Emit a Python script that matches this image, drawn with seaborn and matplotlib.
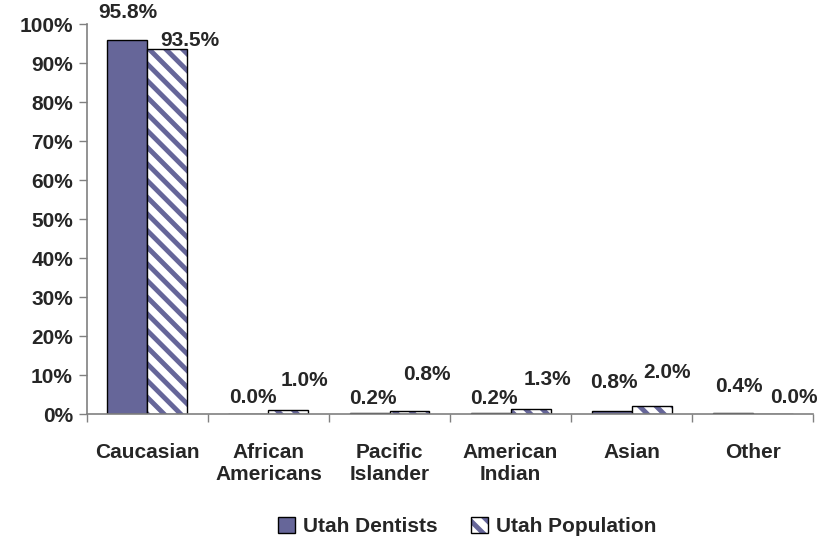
import numpy as np
import pandas as pd
import matplotlib
matplotlib.use("Agg")
import matplotlib.pyplot as plt
import seaborn as sns
from matplotlib.patches import Patch, Rectangle

# data
categories = ["Caucasian", "African\nAmericans", "Pacific\nIslander", "American\nIndian", "Asian", "Other"]
series = ["Utah Dentists", "Utah Population"]
dentists = [95.8, 0.0, 0.2, 0.2, 0.8, 0.4]
population = [93.5, 1.0, 0.8, 1.3, 2.0, 0.0]
y_ticks = [0, 10, 20, 30, 40, 50, 60, 70, 80, 90, 100]

# label nudges (pixels), Excel shifts some labels to avoid overlaps
dx_dent = [0, 4, 3, 3, 2, 6]
dy_dent = [28, 17, 15, 15, 28, 26]
dx_pop = [22, 16, 17, 17, 15, 21]
dy_pop = [9, 30, 36, 30, 34, 17]

PURPLE = "#666699"
FS = 15

sns.set_style("white")
plt.rcParams["font.family"] = ["Liberation Sans", "DejaVu Sans"]
plt.rcParams["font.weight"] = "bold"
plt.rcParams["hatch.linewidth"] = 3.5

df = pd.DataFrame({
    "category": categories * 2,
    "series": [series[0]] * len(categories) + [series[1]] * len(categories),
    "value": dentists + population,
})

fig, ax = plt.subplots(figsize=(8.19, 5.42), dpi=100)
fig.subplots_adjust(left=0.106, right=0.993, top=0.9557, bottom=0.236)

sns.barplot(data=df, x="category", y="value", hue="series", order=categories,
            hue_order=series, palette=[PURPLE, "white"], width=0.66,
            edgecolor="black", linewidth=1.0, saturation=1, legend=False, ax=ax)

# hatch takes the edge colour, so draw the black outline separately
for patch in ax.containers[1]:
    patch.set_hatch("\\\\")
    patch.set_edgecolor(PURPLE)
    patch.set_linewidth(0)
    ax.add_patch(Rectangle(patch.get_xy(), patch.get_width(), patch.get_height(),
                           fill=False, edgecolor="black", linewidth=1.0, zorder=patch.get_zorder() + 0.1))

# value labels
for cont, vals, dxs, dys in [(ax.containers[0], dentists, dx_dent, dy_dent),
                             (ax.containers[1], population, dx_pop, dy_pop)]:
    for patch, v, dx, dy in zip(cont, vals, dxs, dys):
        xc = patch.get_x() + patch.get_width() / 2
        ax.annotate(f"{v:.1f}%", (xc, v), xytext=(dx, dy), textcoords="offset pixels",
                    ha="center", va="center", fontsize=FS, fontweight="bold", annotation_clip=False)

ax.set_xlim(-0.5, len(categories) - 0.5)
ax.set_ylim(0, 100)
ax.set_yticks(y_ticks)
ax.set_yticklabels([f"{t}%" for t in y_ticks], fontsize=FS, fontweight="bold")
ax.set_xticks(range(len(categories)))
ax.set_xticklabels(categories, fontsize=FS, fontweight="bold")
ax.set_xticks(np.arange(-0.5, len(categories)), minor=True)
ax.tick_params(axis="x", which="major", length=0, pad=21)
ax.tick_params(axis="x", which="minor", length=6, width=1, color="#808080", direction="out", bottom=True)
ax.tick_params(axis="y", length=6, width=1, color="#808080", direction="out", left=True, pad=4)
ax.set_xlabel("")
ax.set_ylabel("")
for s in ["top", "right"]:
    ax.spines[s].set_visible(False)
for s in ["left", "bottom"]:
    ax.spines[s].set_color("#808080")
    ax.spines[s].set_linewidth(1.2)

leg_dent = Patch(facecolor=PURPLE, edgecolor="black", label=series[0])
leg_pop = (Patch(facecolor="white", edgecolor=PURPLE, hatch="\\\\", linewidth=0),
           Patch(fill=False, edgecolor="black"))
fig.legend(handles=[leg_dent, leg_pop], labels=series, loc="lower center",
           bbox_to_anchor=(0.571, -0.024), ncol=2, frameon=False,
           prop={"size": FS, "weight": "bold"}, handlelength=0.8,
           handleheight=0.8, handletextpad=0.4, columnspacing=1.6)

fig.savefig("out.png", dpi=100)
